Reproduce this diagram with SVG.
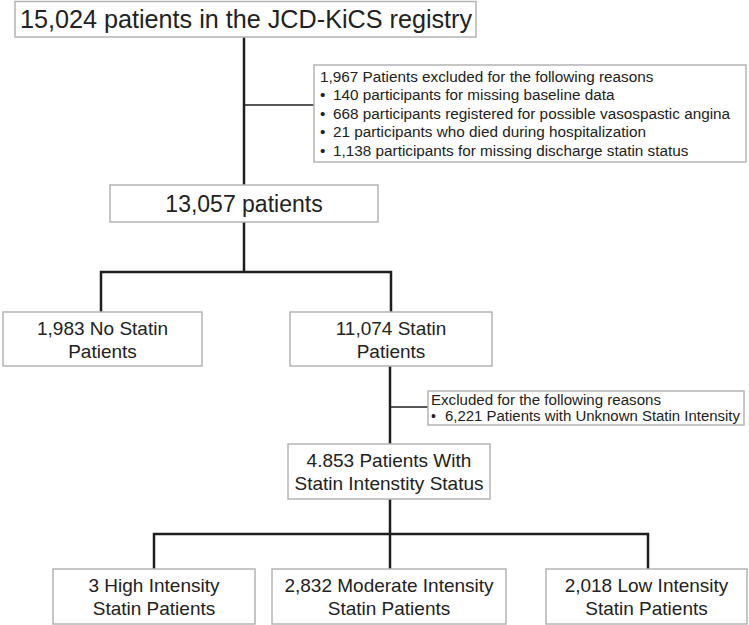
<svg xmlns="http://www.w3.org/2000/svg" width="749" height="625" viewBox="0 0 749 625">
<style>
.box{fill:#fff;stroke:#b4b4b4;stroke-width:1.5}
.t{font-family:"Liberation Sans",Arial,sans-serif;fill:#222}
.n{font-size:19px;text-anchor:middle}
.s{font-size:15.3px}
.s2{font-size:14px}
.c{stroke:#1e1e1e;stroke-width:2.5;fill:none}
.c2{stroke:#1e1e1e;stroke-width:1.5;fill:none}
</style>
<rect width="749" height="625" fill="#fff"/>
<g id="connectors">
<path class="c" d="M244 37V185"/>
<path class="c2" d="M244 105H314"/>
<path class="c" d="M244 222V272M101 312V272H391V312"/>
<path class="c" d="M390 366V444"/>
<path class="c2" d="M390 407H428"/>
<path class="c" d="M390 499V569M154 569V534H648V569"/>
</g>
<g id="n1"><rect class="box" x="15" y="1.5" width="461" height="35.5"/><text class="t" x="246" y="28" font-size="25.2" text-anchor="middle">15,024 patients in the JCD-KiCS registry</text></g>
<g id="ex1"><rect class="box" x="314" y="65" width="432" height="97"/>
<text class="t s" x="320" y="81.5">1,967 Patients excluded for the following reasons</text>
<text class="t s" x="320" y="100">•<tspan x="333">140 participants for missing baseline data</tspan></text>
<text class="t s" x="320" y="118.5">•<tspan x="333">668 participants registered for possible vasospastic angina</tspan></text>
<text class="t s" x="320" y="137">•<tspan x="333">21 participants who died during hospitalization</tspan></text>
<text class="t s" x="320" y="155.5">•<tspan x="333">1,138 participants for missing discharge statin status</tspan></text>
</g>
<g id="n2"><rect class="box" x="110" y="185" width="268" height="37"/><text class="t" x="244" y="212" font-size="23" text-anchor="middle">13,057 patients</text></g>
<g id="n3"><rect class="box" x="3" y="312" width="199" height="54"/><text class="t n" x="102.5" y="334.5">1,983 No Statin</text><text class="t n" x="102.5" y="357.5">Patients</text></g>
<g id="n4"><rect class="box" x="290" y="312" width="202" height="54"/><text class="t n" x="391" y="334.5">11,074 Statin</text><text class="t n" x="391" y="357.5">Patients</text></g>
<g id="ex2"><rect class="box" x="428" y="391" width="316" height="34"/>
<text class="t s2" x="431" y="405" textLength="230" lengthAdjust="spacingAndGlyphs">Excluded for the following reasons</text>
<text class="t s2" x="431" y="421">•<tspan x="445" textLength="295" lengthAdjust="spacingAndGlyphs">6,221 Patients with Unknown Statin Intensity</tspan></text>
</g>
<g id="n5"><rect class="box" x="288" y="444" width="202" height="55"/><text class="t n" x="389" y="467">4.853 Patients With</text><text class="t n" x="389" y="490">Statin Intenstity Status</text></g>
<g id="n6"><rect class="box" x="53" y="569" width="202" height="55"/><text class="t n" x="154" y="592">3 High Intensity</text><text class="t n" x="154" y="615">Statin Patients</text></g>
<g id="n7"><rect class="box" x="272" y="569" width="234" height="55"/><text class="t n" x="389" y="592">2,832 Moderate Intensity</text><text class="t n" x="389" y="615">Statin Patients</text></g>
<g id="n8"><rect class="box" x="546" y="569" width="201" height="55"/><text class="t n" x="646.5" y="592">2,018 Low Intensity</text><text class="t n" x="646.5" y="615">Statin Patients</text></g>
</svg>
